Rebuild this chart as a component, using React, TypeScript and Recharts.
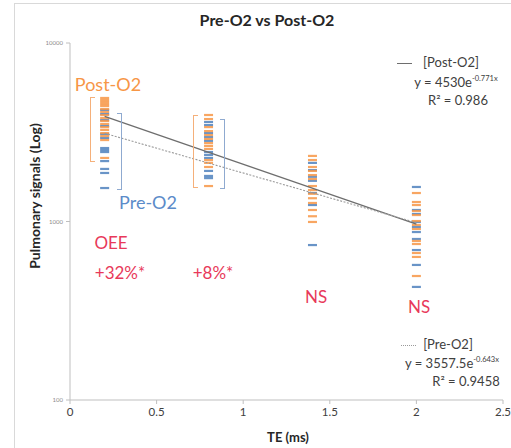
import React from "react";
import { ScatterChart, Scatter, XAxis, YAxis } from "recharts";

// TE echo times (ms) for each column of marks
const teValues = [0.2, 0.8, 1.4, 2.0];

// Post-O2 signals per TE column
const postO2Signals = [
  [4920, 4790, 4670, 4550, 4440, 4270, 4110, 3950, 3800, 3660, 3520, 3380, 3260, 3130, 3010, 2860, 2270],
  [3950, 3750, 3380, 3210, 3050, 2900, 2750, 2650, 2550, 2210, 2130, 2020, 1580],
  [2330, 2210, 2020, 1920, 1820, 1730, 1580, 1500, 1430, 1350, 1270, 1160, 1070, 994],
  [1444, 1286, 1237, 1145, 1087, 1006, 956, 908, 778, 748, 666, 633, 495],
];

// Pre-O2 signals per TE column
const preO2Signals = [
  [4215, 4000, 3700, 3430, 3090, 2940, 2580, 2515, 2450, 2180, 1970, 1870, 1540],
  [3610, 3470, 3130, 2970, 2830, 2450, 2360, 2270, 1920, 1800, 1750],
  [2130, 1940, 1780, 1690, 1444, 1237, 738],
  [1561, 1160, 1102, 994, 932, 873, 798, 692, 571, 430],
];

// exponential trendline end points
const trendTE = [0.2, 2.0];
const postTrend = [3880, 968];
const preTrend = [3120, 985];

const xTicks = [0, 0.5, 1, 1.5, 2, 2.5];
const yTicks = [100, 1000, 10000];

const ORANGE = "#F79646";
const BLUE = "#4F81BD";
const RED = "#E8395A";
const FONT = "Lato, 'Liberation Sans', sans-serif";

const toPoints = (cols: number[][]) =>
  cols.flatMap((vals, i) => vals.map((v) => ({ x: teValues[i], y: v })));

const postData = toPoints(postO2Signals);
const preData = toPoints(preO2Signals);
const postTrendData = trendTE.map((x, i) => ({ x, y: postTrend[i] }));
const preTrendData = trendTE.map((x, i) => ({ x, y: preTrend[i] }));

const dash = (color: string) => (props: any) => {
  const { cx, cy } = props;
  if (cx == null || cy == null) return <g />;
  return <rect x={cx - 4.5} y={cy - 1.1} width={9} height={2.2} fill={color} fillOpacity={0.85} />;
};

function Txt({ x, y, size, color = "#404040", bold, rotate, children }: any) {
  return (
    <div
      style={{
        position: "absolute",
        left: x,
        top: y,
        transform: `translate(-50%, -50%)${rotate ? ` rotate(${rotate}deg)` : ""}`,
        fontSize: size,
        fontWeight: bold ? 700 : 400,
        color,
        whiteSpace: "nowrap",
        lineHeight: 1,
        fontFamily: FONT,
        pointerEvents: "none",
      }}
    >
      {children}
    </div>
  );
}

function Bracket({ x, top, bottom, color, side }: any) {
  return (
    <div
      style={{
        position: "absolute",
        left: x,
        top,
        width: 4,
        height: bottom - top,
        borderTop: `1.5px solid ${color}`,
        borderBottom: `1.5px solid ${color}`,
        [side === "left" ? "borderLeft" : "borderRight"]: `1.5px solid ${color}`,
      }}
    />
  );
}

export default function App() {
  return (
    <div style={{ position: "absolute", left: 0, top: 0, width: 511, height: 448, background: "#fff", overflow: "hidden" }}>
      <div
        style={{
          position: "absolute",
          left: 14,
          top: 3,
          width: 511,
          height: 460,
          borderLeft: "1px solid #D9D9D9",
          borderTop: "1px solid #D9D9D9",
        }}
      />
      <ScatterChart width={511} height={448} margin={{ top: 43, right: 8, left: 30, bottom: 28 }}>
        <XAxis
          type="number"
          dataKey="x"
          domain={[0, 2.5]}
          ticks={xTicks}
          height={20}
          stroke="#BFBFBF"
          tickSize={4}
          tickMargin={4}
          tick={{ fill: "#404040", fontSize: 11.5, fontFamily: FONT }}
        />
        <YAxis
          type="number"
          dataKey="y"
          scale="log"
          domain={[100, 10000]}
          ticks={yTicks}
          allowDataOverflow
          width={40}
          stroke="#BFBFBF"
          tickSize={4}
          tickMargin={3}
          tick={{ fill: "#8C8C8C", fontSize: 6, fontFamily: FONT }}
        />
        <Scatter data={preData} shape={dash(BLUE)} isAnimationActive={false} />
        <Scatter data={postData} shape={dash(ORANGE)} isAnimationActive={false} />
        <Scatter
          data={postTrendData}
          line={{ stroke: "#6E6E6E", strokeWidth: 1.3 }}
          shape={() => <g />}
          isAnimationActive={false}
        />
        <Scatter
          data={preTrendData}
          line={{ stroke: "#9A9A9A", strokeWidth: 1.1, strokeDasharray: "2 1.5" }}
          shape={() => <g />}
          isAnimationActive={false}
        />
      </ScatterChart>

      <Bracket x={90} top={97} bottom={160} color="#F5B07A" side="left" />
      <Bracket x={117} top={113} bottom={188} color="#8FAAD0" side="right" />
      <Bracket x={193} top={115} bottom={186} color="#F5B07A" side="left" />
      <Bracket x={220} top={119} bottom={187} color="#8FAAD0" side="right" />

      <Txt x={267} y={20} size={16} bold color="#262626">Pre-O2 vs Post-O2</Txt>
      <Txt x={35} y={196} size={14} bold rotate={-90} color="#262626">Pulmonary signals (Log)</Txt>
      <Txt x={288} y={437} size={13} bold color="#262626">TE (ms)</Txt>

      <Txt x={108} y={84} size={18} color={ORANGE}>Post-O2</Txt>
      <Txt x={148} y={202} size={18} color="#5B8BC9">Pre-O2</Txt>
      <Txt x={111} y={242} size={17} color={RED}>OEE</Txt>
      <Txt x={120} y={272} size={17} color={RED}>+32%*</Txt>
      <Txt x={213} y={272} size={17} color={RED}>+8%*</Txt>
      <Txt x={316} y={296} size={17} color={RED}>NS</Txt>
      <Txt x={419} y={306} size={17} color={RED}>NS</Txt>

      <div style={{ position: "absolute", left: 397, top: 63, width: 15, borderTop: "1.3px solid #6E6E6E" }} />
      <Txt x={451} y={62} size={13}>[Post-O2]</Txt>
      <Txt x={456} y={82} size={13}>
        y = 4530e<sup style={{ fontSize: 7.5 }}>-0.771x</sup>
      </Txt>
      <Txt x={458} y={100} size={13}>R² = 0.986</Txt>

      <div style={{ position: "absolute", left: 401, top: 345, width: 15, borderTop: "1.2px dotted #9A9A9A" }} />
      <Txt x={448} y={344} size={13}>[Pre-O2]</Txt>
      <Txt x={452} y={363} size={13}>
        y = 3557.5e<sup style={{ fontSize: 7.5 }}>-0.643x</sup>
      </Txt>
      <Txt x={466} y={381} size={13}>R² = 0.9458</Txt>
    </div>
  );
}
